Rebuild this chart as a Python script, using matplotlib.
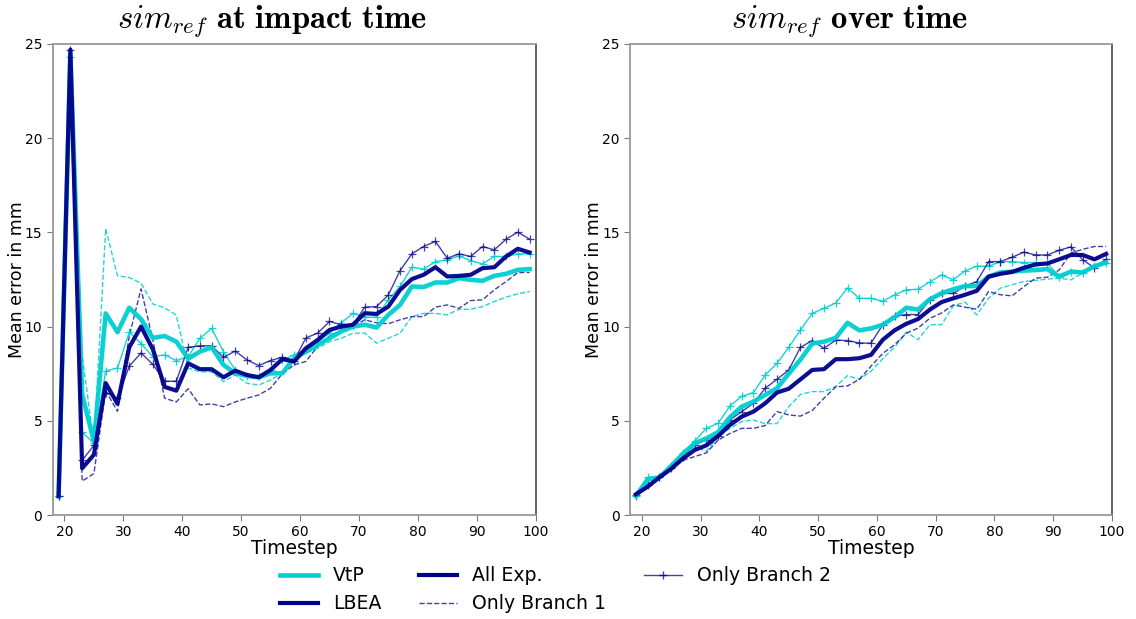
"""Mean error over timesteps for VtP and LBEA, two evaluation settings."""

import numpy as np
import matplotlib
matplotlib.use("Agg")
import matplotlib.pyplot as plt
from matplotlib.lines import Line2D

plt.rcParams["mathtext.fontset"] = "cm"

timesteps = np.arange(19, 100, 2)

# sim_ref at impact time
impact_vtp_all = [1.0, 24.5, 6.4, 3.9, 10.7, 9.7, 11.0, 10.4, 9.4, 9.5, 9.2, 8.3, 8.67, 8.9, 7.97, 7.52,
                  7.38, 7.31, 7.52, 7.52, 8.32, 8.67, 9.03, 9.38, 9.74, 10.0, 10.1, 9.95, 10.62, 11.15,
                  12.13, 12.1, 12.34, 12.34, 12.57, 12.48, 12.43, 12.69, 12.8, 13.01, 13.05]
impact_lbea_all = [1.0, 24.7, 2.48, 3.2, 7.0, 5.9, 8.9, 10.0, 8.8, 6.8, 6.6, 8.05, 7.74, 7.74, 7.31, 7.66,
                   7.43, 7.31, 7.7, 8.27, 8.15, 8.85, 9.29, 9.82, 10.0, 10.1, 10.71, 10.67, 11.06, 11.95,
                   12.52, 12.75, 13.15, 12.66, 12.69, 12.75, 13.1, 13.15, 13.72, 14.13, 13.93]
impact_vtp_b1 = [1.0, 24.0, 8.5, 3.8, 15.2, 12.7, 12.6, 12.3, 11.2, 11.0, 10.6, 7.8, 7.6, 7.6, 7.08, 7.43,
                 6.99, 6.9, 7.17, 7.52, 8.3, 8.6, 8.85, 9.2, 9.38, 9.65, 9.65, 9.12, 9.38, 9.65,
                 10.53, 10.7, 10.7, 10.62, 10.92, 10.92, 11.06, 11.33, 11.56, 11.74, 11.86]
impact_lbea_b1 = [1.0, 24.6, 1.8, 2.2, 6.6, 5.5, 9.5, 12.0, 9.3, 6.2, 6.0, 6.7, 5.84, 5.9, 5.75, 6.0,
                  6.2, 6.37, 6.73, 7.5, 7.97, 8.15, 8.95, 9.5, 9.8, 10.0, 10.36, 10.2, 10.15, 10.36,
                  10.53, 10.53, 11.03, 11.15, 10.97, 11.38, 11.42, 11.95, 12.39, 12.87, 12.87]
impact_vtp_b2 = [1.0, 24.3, 4.4, 3.8, 7.65, 7.8, 9.7, 9.1, 8.4, 8.5, 8.2, 8.4, 9.38, 9.9, 8.67, 7.7,
                 7.4, 7.38, 7.7, 8.23, 8.5, 8.77, 9.2, 9.65, 10.2, 10.7, 10.5, 10.5, 11.42, 12.13,
                 13.15, 13.05, 13.45, 13.54, 13.75, 13.5, 13.33, 13.72, 13.72, 13.86, 13.86]
impact_lbea_b2 = [1.0, 24.7, 2.9, 3.7, 6.5, 6.2, 7.9, 8.6, 8.0, 7.1, 7.1, 8.9, 8.98, 8.98, 8.37, 8.7,
                  8.23, 7.93, 8.2, 8.37, 8.2, 9.4, 9.65, 10.27, 10.1, 10.1, 11.03, 11.06, 11.68, 12.97,
                  13.86, 14.25, 14.52, 13.63, 13.86, 13.72, 14.25, 14.07, 14.64, 15.01, 14.64]

# sim_ref over time
over_vtp_all = [1.0, 1.9, 2.0, 2.6, 3.25, 3.8, 4.07, 4.4, 5.19, 5.75, 6.02, 6.37, 6.73, 7.5, 8.25, 9.1,
                9.2, 9.4, 10.2, 9.8, 9.9, 10.1, 10.5, 11.0, 10.9, 11.45, 11.77, 11.98, 12.15, 12.15,
                12.65, 12.87, 12.92, 12.97, 13.0, 13.05, 12.65, 12.92, 12.87, 13.2, 13.4]
over_lbea_all = [1.1, 1.5, 2.0, 2.45, 3.0, 3.45, 3.7, 4.2, 4.78, 5.22, 5.49, 5.93, 6.5, 6.7, 7.2, 7.7,
                 7.74, 8.27, 8.27, 8.32, 8.5, 9.3, 9.8, 10.15, 10.4, 10.9, 11.3, 11.5, 11.69, 11.9,
                 12.65, 12.8, 12.9, 13.12, 13.3, 13.35, 13.57, 13.8, 13.8, 13.57, 13.86]
over_vtp_b1 = [1.0, 1.7, 2.0, 2.5, 3.0, 3.6, 3.4, 4.15, 4.6, 4.96, 5.04, 4.85, 4.85, 5.75, 6.4, 6.55,
               6.55, 6.82, 7.4, 7.2, 7.63, 8.3, 8.9, 9.7, 9.3, 10.1, 10.1, 11.1, 11.3, 10.62,
               11.5, 12.04, 12.22, 12.39, 12.45, 12.52, 12.57, 12.48, 12.83, 13.22, 13.37]
over_lbea_b1 = [1.0, 1.5, 2.0, 2.5, 2.9, 3.1, 3.3, 3.98, 4.33, 4.6, 4.6, 4.75, 5.49, 5.31, 5.25, 5.55,
                6.2, 6.8, 6.85, 7.2, 7.9, 8.58, 9.03, 9.65, 9.92, 10.44, 10.72, 11.15, 11.03, 10.92,
                11.86, 11.69, 11.63, 12.12, 12.57, 12.62, 13.0, 13.9, 14.1, 14.25, 14.25]
over_vtp_b2 = [1.0, 2.0, 2.0, 2.6, 3.3, 3.93, 4.6, 4.87, 5.79, 6.3, 6.5, 7.43, 8.05, 8.9, 9.82, 10.7,
               10.97, 11.25, 12.05, 11.5, 11.5, 11.35, 11.68, 11.95, 11.98, 12.37, 12.74, 12.48, 12.96, 13.2,
               13.2, 13.45, 13.45, 13.4, 13.4, 13.37, 12.65, 12.92, 12.87, 13.2, 13.35]
over_lbea_b2 = [1.05, 1.6, 2.0, 2.5, 3.1, 3.73, 4.0, 4.2, 5.05, 5.49, 5.93, 6.73, 7.2, 7.7, 8.9, 9.26,
                8.85, 9.28, 9.26, 9.13, 9.12, 10.1, 10.55, 10.64, 10.64, 11.42, 11.76, 11.76, 12.15, 12.39,
                13.45, 13.45, 13.68, 13.95, 13.8, 13.8, 14.05, 14.23, 13.55, 13.12, 13.57]

titles = [r"$sim_{ref}$ $\mathbf{at\ impact\ time}$", r"$sim_{ref}$ $\mathbf{over\ time}$"]
legend_labels = ["VtP", "LBEA", "All Exp.", "Only Branch 1", "Only Branch 2"]

CYAN = "darkturquoise"
NAVY = "darkblue"


def draw_panel(ax, vtp_all, lbea_all, vtp_b1, lbea_b1, vtp_b2, lbea_b2, title):
    ax.plot(timesteps, vtp_b1, color=CYAN, lw=1.0, ls="--", alpha=0.85)
    ax.plot(timesteps, lbea_b1, color=NAVY, lw=1.0, ls="--", alpha=0.75)
    ax.plot(timesteps, vtp_b2, color=CYAN, lw=1.0, marker="+", ms=6, mew=0.9, alpha=0.9)
    ax.plot(timesteps, lbea_b2, color=NAVY, lw=1.0, marker="+", ms=6, mew=0.9, alpha=0.75)
    ax.plot(timesteps, vtp_all, color=CYAN, lw=3.3, alpha=0.95)
    ax.plot(timesteps, lbea_all, color=NAVY, lw=3.0, alpha=0.95)

    ax.set_xlim(18, 100)
    ax.set_ylim(0, 25)
    ax.set_xticks(np.arange(20, 101, 10))
    ax.set_yticks(np.arange(0, 26, 5))
    ax.tick_params(labelsize=10, color="#777777", length=4)
    ax.set_xlabel("Timestep", fontsize=13.5, labelpad=0)
    ax.set_ylabel("Mean error in mm", fontsize=12.5, labelpad=-1)
    for name, sp in ax.spines.items():
        sp.set_color("#999999")
        sp.set_linewidth(1.3)
    ax.spines["right"].set_color("#555555")
    ax.set_title(title, fontsize=23.5, x=0.455, pad=12)


fig = plt.figure(figsize=(11.36, 6.19), dpi=100)
ax1 = fig.add_axes([0.0464, 0.168, 0.425, 0.761])
ax2 = fig.add_axes([0.5546, 0.168, 0.4243, 0.761])

draw_panel(ax1, impact_vtp_all, impact_lbea_all, impact_vtp_b1, impact_lbea_b1,
           impact_vtp_b2, impact_lbea_b2, titles[0])
draw_panel(ax2, over_vtp_all, over_lbea_all, over_vtp_b1, over_lbea_b1,
           over_vtp_b2, over_lbea_b2, titles[1])

handles = [
    Line2D([], [], color=CYAN, lw=3.3),
    Line2D([], [], color=NAVY, lw=3.0),
    Line2D([], [], color=NAVY, lw=3.0),
    Line2D([], [], color=NAVY, lw=1.0, ls="--", alpha=0.75),
    Line2D([], [], color=NAVY, lw=1.0, marker="+", ms=6, alpha=0.75),
]
fig.legend(handles, legend_labels, loc="lower center", bbox_to_anchor=(0.489, -0.018), ncol=3,
           frameon=False, fontsize=13.6, columnspacing=2.0, handletextpad=0.8, labelspacing=0.46)

fig.savefig("out.png", dpi=100)
